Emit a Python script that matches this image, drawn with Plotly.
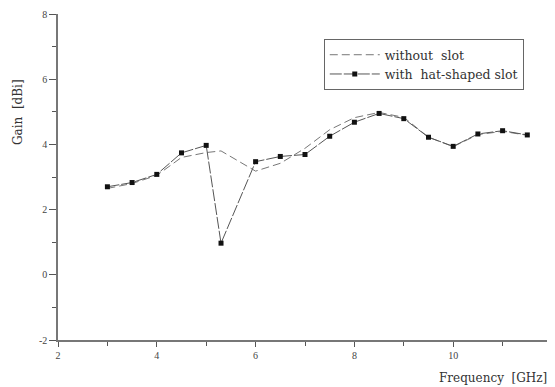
import plotly.graph_objects as go

freq = [3, 3.5, 4, 4.5, 5, 5.3, 6, 6.5, 7, 7.5, 8, 8.5, 9, 9.5, 10, 10.5, 11, 11.5]
gain_without = [2.65, 2.8, 3.05, 3.6, 3.75, 3.8, 3.18, 3.42, 3.88, 4.45, 4.82, 4.98, 4.83, 4.22, 3.93, 4.3, 4.4, 4.28]
gain_with = [2.70, 2.83, 3.08, 3.74, 3.97, 0.97, 3.47, 3.63, 3.69, 4.25, 4.68, 4.95, 4.79, 4.22, 3.94, 4.32, 4.42, 4.29]

x_ticks = [2, 4, 6, 8, 10, 12]
y_ticks = [-2, 0, 2, 4, 6, 8]

tick_font = "Liberation Serif, Times New Roman, serif"
text_font = "DejaVu Serif, serif"

fig = go.Figure()
fig.add_trace(go.Scatter(
    x=freq, y=gain_without, mode="lines", name="without  slot",
    line=dict(color="#777777", width=1, dash="8px,4px"),
))
fig.add_trace(go.Scatter(
    x=freq, y=gain_with, mode="lines+markers", name="with  hat-shaped slot",
    line=dict(color="#555555", width=1, dash="12px,2px"),
    marker=dict(symbol="square", size=5, color="#111111"),
))

axis_common = dict(
    showline=True, linecolor="#777777", linewidth=1.5,
    ticks="outside", tickwidth=1, tickcolor="#555555",
    showgrid=False, zeroline=False, mirror=False,
    tickfont=dict(family=tick_font, size=10, color="#444444"),
)

fig.update_xaxes(
    range=[2, 12], tickvals=x_ticks, ticktext=[str(v) for v in x_ticks],
    ticklen=5,
    minor=dict(ticks="outside", ticklen=4, dtick=1, tick0=2, tickcolor="#555555"),
    automargin=False,
    **axis_common,
)
fig.update_yaxes(
    range=[-2, 8], tickvals=y_ticks, ticktext=[str(v) for v in y_ticks],
    ticklen=7,
    minor=dict(ticks="outside", ticklen=4, dtick=1, tick0=-2, tickcolor="#555555"),
    automargin=False,
    **axis_common,
)

fig.update_layout(
    width=555, height=387,
    margin=dict(l=50, r=11, t=6, b=55, autoexpand=False),
    paper_bgcolor="white", plot_bgcolor="white",
    showlegend=True,
    legend=dict(
        x=0.538, y=0.923, xanchor="left", yanchor="top",
        bordercolor="#666666", borderwidth=1, bgcolor="white",
        font=dict(family=text_font, size=12.5, color="#333333"),
        itemwidth=50, tracegroupgap=0,
    ),
    annotations=[
        dict(text="Gain  [dBi]", textangle=-90, xref="paper", yref="paper",
             x=-40/494, y=(340-112)/326, xanchor="center", yanchor="middle",
             showarrow=False, font=dict(family=text_font, size=12, color="#333333")),
        dict(text="Frequency  [GHz]", xref="paper", yref="paper",
             x=0.994, y=-(378-340)/326, xanchor="right", yanchor="middle",
             showarrow=False, font=dict(family=text_font, size=12, color="#333333")),
    ],
)

fig.write_html("out.html")
